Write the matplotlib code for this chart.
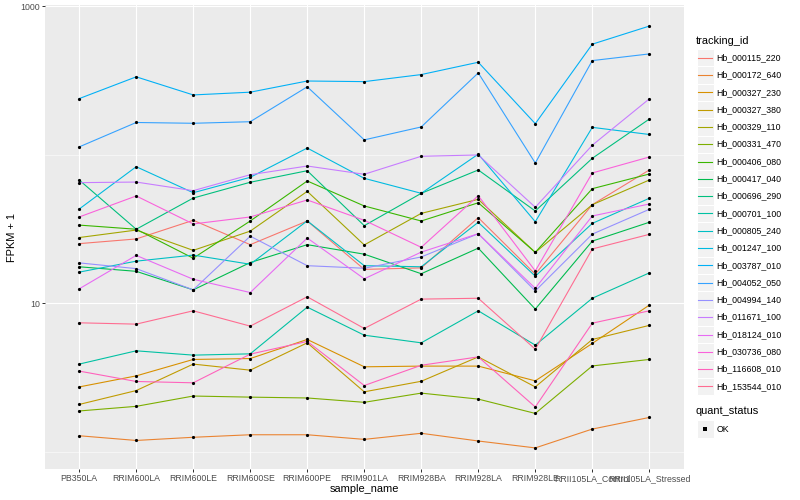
import numpy as np
import matplotlib.pyplot as plt
from matplotlib.patches import Rectangle

plt.rcParams['font.family'] = ['Liberation Sans', 'DejaVu Sans']

samples = ['PB350LA', 'RRIM600LA', 'RRIM600LE', 'RRIM600SE', 'RRIM600PE', 'RRIM901LA',
           'RRIM928BA', 'RRIM928LA', 'RRIM928LE', 'RRII105LA_Control', 'RRII105LA_Stressed']

# FPKM + 1 per sample
hb_000115_220 = [25.2, 27.1, 36.2, 24.8, 35.8, 16.9, 17.3, 37.7, 15.7, 46.1, 79.0]
hb_000172_640 = [1.28, 1.19, 1.25, 1.30, 1.30, 1.21, 1.33, 1.18, 1.06, 1.42, 1.70]
hb_000327_230 = [2.73, 3.24, 4.18, 4.24, 5.70, 3.73, 3.77, 3.77, 3.00, 5.36, 9.71]
hb_000327_380 = [2.08, 2.58, 3.89, 3.54, 5.41, 2.53, 2.98, 4.35, 2.73, 5.70, 7.09]
hb_000329_110 = [27.7, 31.1, 22.7, 30.6, 56.7, 24.7, 40.3, 50.1, 22.0, 46.1, 67.6]
hb_000331_470 = [1.88, 2.02, 2.37, 2.33, 2.30, 2.15, 2.48, 2.26, 1.81, 3.78, 4.18]
hb_000406_080 = [33.6, 31.5, 20.1, 35.8, 66.6, 45.2, 35.8, 47.5, 22.0, 59.1, 74.2]
hb_000417_040 = [17.6, 16.4, 12.3, 18.8, 24.8, 21.4, 15.8, 23.5, 9.13, 26.2, 35.1]
hb_000696_290 = [67.6, 31.5, 51.1, 65.3, 78.1, 33.3, 55.0, 79.0, 41.8, 94.7, 174]
hb_000701_100 = [3.89, 4.78, 4.47, 4.56, 9.41, 6.09, 5.41, 8.89, 5.22, 10.8, 16.0]
hb_000805_240 = [16.2, 19.2, 21.1, 18.3, 35.9, 17.9, 17.6, 35.1, 15.2, 34.5, 50.9]
hb_001247_100 = [43.1, 83.1, 55.5, 70.5, 111, 69.4, 55.0, 101, 35.4, 153, 137]
hb_003787_010 = [239, 335, 253, 264, 314, 311, 347, 420, 162, 556, 736]
hb_004052_050 = [113, 165, 163, 167, 287, 126, 154, 356, 88, 431, 478]
hb_004994_140 = [18.7, 17.1, 12.3, 28.3, 17.9, 17.2, 20.5, 29.4, 12.1, 29.2, 42.9]
hb_011671_100 = [64.9, 65.5, 57.3, 73.4, 84.0, 73.9, 97.7, 99.7, 44.3, 116, 238]
hb_018124_010 = [12.5, 21.0, 14.5, 11.8, 27.5, 14.6, 22.1, 29.4, 12.6, 38.7, 46.6]
hb_030736_080 = [38.1, 52.8, 34.2, 38.1, 49.6, 36.2, 23.8, 53.0, 16.5, 75.4, 96.6]
hb_116608_010 = [3.49, 2.97, 2.91, 4.54, 5.53, 2.79, 3.82, 4.35, 2.00, 7.34, 8.89]
hb_153544_010 = [7.38, 7.23, 8.89, 7.01, 11.05, 6.76, 10.66, 10.8, 4.90, 23.2, 29.1]

tracking_ids = ['Hb_000115_220', 'Hb_000172_640', 'Hb_000327_230', 'Hb_000327_380',
                'Hb_000329_110', 'Hb_000331_470', 'Hb_000406_080', 'Hb_000417_040',
                'Hb_000696_290', 'Hb_000701_100', 'Hb_000805_240', 'Hb_001247_100',
                'Hb_003787_010', 'Hb_004052_050', 'Hb_004994_140', 'Hb_011671_100',
                'Hb_018124_010', 'Hb_030736_080', 'Hb_116608_010', 'Hb_153544_010']
series = [hb_000115_220, hb_000172_640, hb_000327_230, hb_000327_380, hb_000329_110,
          hb_000331_470, hb_000406_080, hb_000417_040, hb_000696_290, hb_000701_100,
          hb_000805_240, hb_001247_100, hb_003787_010, hb_004052_050, hb_004994_140,
          hb_011671_100, hb_018124_010, hb_030736_080, hb_116608_010, hb_153544_010]

# ggplot hue palette, 20 levels
colors = ['#F8766D', '#EA8331', '#D89000', '#C09B00', '#A3A500', '#7CAE00', '#39B600',
          '#00BB4E', '#00BF7D', '#00C1A3', '#00BFC4', '#00BAE0', '#00B0F6', '#35A2FF',
          '#9590FF', '#C77CFF', '#E76BF3', '#FA62DB', '#FF62BC', '#FF6C91']

W, H = 800, 500
fig = plt.figure(figsize=(W / 72, H / 72), dpi=72)
ax = fig.add_axes([45 / W, 31 / H, 638.5 / W, 464 / H])
ax.set_facecolor('#EBEBEB')

x = np.arange(len(samples))
for vals, col in zip(series, colors):
    ax.plot(x, vals, color=col, lw=1.1, zorder=2)
for vals in series:
    ax.plot(x, vals, 'o', color='black', ms=3.2, mew=0, zorder=3)

ax.set_yscale('log')
allv = np.log10(np.concatenate([np.array(s, float) for s in series]))
lo, hi = allv.min(), allv.max()
pad = (hi - lo) * 0.05
ax.set_ylim(10 ** (lo - pad), 10 ** (hi + pad))
ax.set_xlim(-0.6, len(samples) - 0.4)

ax.set_yticks([10, 1000])
ax.set_yticklabels(['10', '1000'])
ax.set_yticks([1, 100], minor=True)
ax.yaxis.set_minor_formatter(plt.NullFormatter())
ax.set_xticks(x)
ax.set_xticklabels(samples)

ax.grid(True, which='major', color='white', lw=1.1, zorder=0)
ax.grid(True, which='minor', axis='y', color='white', lw=0.55, zorder=0)
ax.set_axisbelow(True)
for s in ax.spines.values():
    s.set_visible(False)
ax.tick_params(axis='both', which='major', length=2.75, width=1.0, color='#333333',
               labelsize=8.8, labelcolor='#4D4D4D', pad=2)
ax.tick_params(axis='y', which='minor', length=0)

ax.set_xlabel('sample_name', fontsize=11, labelpad=1)
ax.set_ylabel('FPKM + 1', fontsize=11, labelpad=4)

# legends, drawn by hand in pixel coordinates of the figure
def fx(px):
    return px / W

def fy(py):
    return 1 - py / H

fig.text(fx(696), fy(40.5), 'tracking_id', fontsize=11, va='center', ha='left')
key = 17.3
for i, (name, col) in enumerate(zip(tracking_ids, colors)):
    yc = 57.7 + i * key
    fig.patches.append(Rectangle((fx(696.5), fy(yc + key / 2)), key / W, key / H,
                                 transform=fig.transFigure, facecolor='#F2F2F2',
                                 edgecolor='white', lw=1.0))
    fig.lines.append(plt.Line2D([fx(698.2), fx(712.2)], [fy(yc), fy(yc)],
                                transform=fig.transFigure, color=col, lw=1.1))
    fig.text(fx(716.5), fy(yc), name, fontsize=8.8, va='center', ha='left')

fig.text(fx(696), fy(411.5), 'quant_status', fontsize=11, va='center', ha='left')
yc = 429
fig.patches.append(Rectangle((fx(696.5), fy(yc + key / 2)), key / W, key / H,
                             transform=fig.transFigure, facecolor='#F2F2F2',
                             edgecolor='white', lw=1.0))
fig.lines.append(plt.Line2D([fx(705.2)], [fy(yc)], transform=fig.transFigure,
                            marker='s', color='black', ms=3.2, mew=0))
fig.text(fx(716.5), fy(yc), 'OK', fontsize=8.8, va='center', ha='left')

fig.savefig('out.png', dpi=72)
